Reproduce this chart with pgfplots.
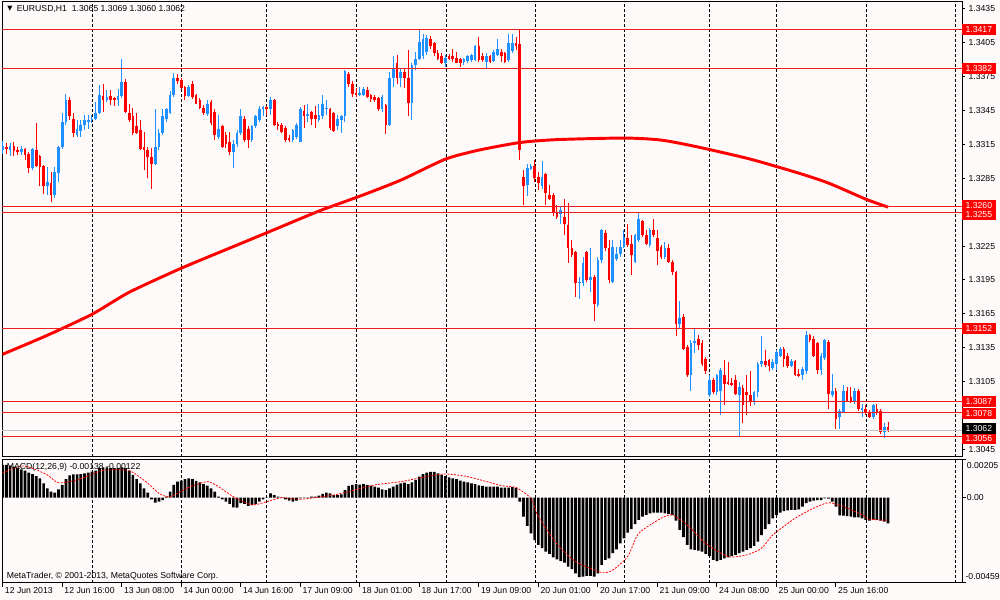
\documentclass[border=0pt]{standalone}
\usepackage{fontspec}
\setmainfont{Liberation Sans}
\newfontfamily\djv{DejaVu Sans}
\usepackage{pgfplots}
\pgfplotsset{compat=1.18}
\usepackage{pgfplotstable}
\definecolor{bg}{RGB}{255,250,250}
\definecolor{upc}{RGB}{30,144,255}
\definecolor{dnc}{RGB}{255,0,0}
\definecolor{lvl}{RGB}{238,30,30}
\definecolor{cur}{RGB}{192,192,192}
\newcommand{\sm}{\fontsize{6.5}{7.5}\selectfont}

\pgfplotstableread{
i o h l c
0 1.3310 1.3318 1.3307 1.3314
1 1.3313 1.3316 1.3307 1.3311
2 1.3310 1.3316 1.3305 1.3314
3 1.3314 1.3317 1.3305 1.3309
4 1.3310 1.3313 1.3306 1.3308
5 1.3308 1.3314 1.3306 1.3311
6 1.3311 1.3312 1.3301 1.3306
7 1.3307 1.3308 1.3290 1.3294
8 1.3294 1.3312 1.3292 1.3311
9 1.3310 1.3334 1.3295 1.3296
10 1.3305 1.3306 1.3278 1.3295
11 1.3296 1.3297 1.3271 1.3278
12 1.3278 1.3295 1.3270 1.3282
13 1.3281 1.3291 1.3264 1.3270
14 1.3270 1.3295 1.3268 1.3291
15 1.3290 1.3314 1.3282 1.3313
16 1.3313 1.3343 1.3311 1.3335
17 1.3335 1.3360 1.3332 1.3354
18 1.3354 1.3357 1.3337 1.3340
19 1.3338 1.3343 1.3322 1.3325
20 1.3323 1.3337 1.3322 1.3329
21 1.3327 1.3337 1.3322 1.3332
22 1.3332 1.3341 1.3328 1.3337
23 1.3335 1.3341 1.3329 1.3337
24 1.3337 1.3341 1.3334 1.3338
25 1.3338 1.3353 1.3337 1.3343
26 1.3343 1.3368 1.3342 1.3359
27 1.3358 1.3369 1.3344 1.3354
28 1.3354 1.3363 1.3353 1.3357
29 1.3358 1.3363 1.3350 1.3354
30 1.3356 1.3357 1.3349 1.3354
31 1.3354 1.3364 1.3349 1.3358
32 1.3358 1.3391 1.3356 1.3370
33 1.3370 1.3373 1.3343 1.3344
34 1.3343 1.3351 1.3335 1.3337
35 1.3340 1.3347 1.3323 1.3325
36 1.3331 1.3343 1.3324 1.3325
37 1.3328 1.3337 1.3310 1.3311
38 1.3313 1.3326 1.3292 1.3310
39 1.3310 1.3313 1.3285 1.3304
40 1.3304 1.3312 1.3276 1.3298
41 1.3298 1.3346 1.3297 1.3313
42 1.3313 1.3329 1.3310 1.3325
43 1.3325 1.3346 1.3323 1.3340
44 1.3338 1.3347 1.3335 1.3346
45 1.3343 1.3362 1.3342 1.3359
46 1.3359 1.3378 1.3357 1.3374
47 1.3374 1.3377 1.3369 1.3371
48 1.3372 1.3374 1.3364 1.3365
49 1.3366 1.3367 1.3354 1.3358
50 1.3358 1.3368 1.3357 1.3366
51 1.3369 1.3371 1.3355 1.3357
52 1.3359 1.3360 1.3351 1.3351
53 1.3354 1.3356 1.3346 1.3347
54 1.3347 1.3350 1.3341 1.3343
55 1.3342 1.3354 1.3340 1.3351
56 1.3353 1.3354 1.3332 1.3334
57 1.3344 1.3346 1.3319 1.3323
58 1.3322 1.3341 1.3320 1.3329
59 1.3331 1.3332 1.3312 1.3313
60 1.3323 1.3326 1.3312 1.3315
61 1.3317 1.3326 1.3306 1.3308
62 1.3308 1.3319 1.3294 1.3315
63 1.3315 1.3328 1.3313 1.3325
64 1.3325 1.3346 1.3323 1.3340
65 1.3338 1.3340 1.3317 1.3319
66 1.3329 1.3331 1.3312 1.3319
67 1.3319 1.3332 1.3317 1.3331
68 1.3331 1.3341 1.3330 1.3340
69 1.3337 1.3349 1.3335 1.3346
70 1.3346 1.3349 1.3340 1.3348
71 1.3348 1.3349 1.3341 1.3346
72 1.3346 1.3357 1.3341 1.3354
73 1.3354 1.3355 1.3331 1.3332
74 1.3333 1.3335 1.3328 1.3331
75 1.3332 1.3334 1.3325 1.3326
76 1.3330 1.3331 1.3317 1.3319
77 1.3321 1.3323 1.3317 1.3319
78 1.3319 1.3329 1.3317 1.3328
79 1.3322 1.3334 1.3320 1.3332
80 1.3317 1.3348 1.3317 1.3346
81 1.3345 1.3350 1.3330 1.3340
82 1.3340 1.3351 1.3335 1.3342
83 1.3344 1.3345 1.3332 1.3338
84 1.3341 1.3349 1.3330 1.3338
85 1.3337 1.3351 1.3335 1.3341
86 1.3340 1.3359 1.3338 1.3351
87 1.3346 1.3354 1.3341 1.3347
88 1.3346 1.3347 1.3328 1.3330
89 1.3343 1.3344 1.3326 1.3327
90 1.3331 1.3341 1.3328 1.3338
91 1.3337 1.3341 1.3325 1.3340
92 1.3340 1.3381 1.3335 1.3380
93 1.3377 1.3379 1.3366 1.3369
94 1.3369 1.3371 1.3357 1.3360
95 1.3361 1.3365 1.3357 1.3359
96 1.3359 1.3366 1.3358 1.3361
97 1.3359 1.3366 1.3358 1.3364
98 1.3363 1.3366 1.3356 1.3357
99 1.3359 1.3360 1.3353 1.3355
100 1.3357 1.3359 1.3353 1.3354
101 1.3356 1.3357 1.3345 1.3346
102 1.3346 1.3359 1.3344 1.3357
103 1.3350 1.3351 1.3324 1.3332
104 1.3332 1.3379 1.3331 1.3374
105 1.3374 1.3393 1.3366 1.3382
106 1.3387 1.3394 1.3369 1.3374
107 1.3374 1.3382 1.3366 1.3379
108 1.3379 1.3382 1.3365 1.3374
109 1.3374 1.3399 1.3340 1.3352
110 1.3352 1.3387 1.3337 1.3385
111 1.3385 1.3397 1.3381 1.3391
112 1.3391 1.3416 1.3390 1.3406
113 1.3393 1.3413 1.3391 1.3408
114 1.3397 1.3412 1.3394 1.3409
115 1.3408 1.3411 1.3400 1.3402
116 1.3405 1.3406 1.3393 1.3396
117 1.3396 1.3399 1.3390 1.3391
118 1.3393 1.3396 1.3386 1.3387
119 1.3387 1.3394 1.3384 1.3392
120 1.3393 1.3395 1.3390 1.3391
121 1.3393 1.3400 1.3388 1.3391
122 1.3392 1.3397 1.3387 1.3387
123 1.3391 1.3392 1.3384 1.3387
124 1.3388 1.3392 1.3385 1.3391
125 1.3389 1.3394 1.3387 1.3393
126 1.3390 1.3395 1.3388 1.3394
127 1.3390 1.3403 1.3389 1.3402
128 1.3402 1.3410 1.3388 1.3390
129 1.3393 1.3396 1.3388 1.3390
130 1.3388 1.3396 1.3382 1.3393
131 1.3393 1.3394 1.3387 1.3388
132 1.3389 1.3399 1.3388 1.3397
133 1.3394 1.3408 1.3393 1.3400
134 1.3397 1.3400 1.3388 1.3393
135 1.3396 1.3397 1.3387 1.3388
136 1.3390 1.3413 1.3388 1.3405
137 1.3398 1.3413 1.3396 1.3405
138 1.3405 1.3410 1.3399 1.3402
139 1.3404 1.3417 1.3301 1.3310
140 1.3286 1.3292 1.3261 1.3278
141 1.3279 1.3298 1.3269 1.3294
142 1.3293 1.3298 1.3292 1.3296
143 1.3296 1.3301 1.3282 1.3285
144 1.3286 1.3291 1.3275 1.3281
145 1.3278 1.3300 1.3276 1.3286
146 1.3289 1.3290 1.3261 1.3272
147 1.3270 1.3279 1.3266 1.3267
148 1.3270 1.3272 1.3252 1.3254
149 1.3255 1.3261 1.3249 1.3251
150 1.3253 1.3260 1.3245 1.3257
151 1.3251 1.3267 1.3235 1.3245
152 1.3244 1.3263 1.3210 1.3223
153 1.3223 1.3230 1.3215 1.3217
154 1.3220 1.3221 1.3180 1.3192
155 1.3192 1.3198 1.3178 1.3193
156 1.3192 1.3215 1.3190 1.3210
157 1.3220 1.3221 1.3193 1.3195
158 1.3195 1.3223 1.3184 1.3198
159 1.3198 1.3199 1.3159 1.3174
160 1.3173 1.3215 1.3171 1.3213
161 1.3213 1.3240 1.3210 1.3239
162 1.3237 1.3239 1.3221 1.3223
163 1.3223 1.3230 1.3192 1.3195
164 1.3193 1.3230 1.3192 1.3224
165 1.3214 1.3224 1.3212 1.3218
166 1.3218 1.3230 1.3215 1.3224
167 1.3224 1.3239 1.3223 1.3233
168 1.3232 1.3245 1.3224 1.3226
169 1.3227 1.3235 1.3199 1.3217
170 1.3211 1.3236 1.3210 1.3235
171 1.3230 1.3254 1.3229 1.3249
172 1.3247 1.3248 1.3233 1.3235
173 1.3235 1.3239 1.3226 1.3227
174 1.3226 1.3241 1.3224 1.3239
175 1.3239 1.3249 1.3233 1.3235
176 1.3232 1.3239 1.3208 1.3221
177 1.3224 1.3226 1.3214 1.3215
178 1.3215 1.3229 1.3214 1.3223
179 1.3223 1.3227 1.3210 1.3211
180 1.3211 1.3213 1.3199 1.3202
181 1.3202 1.3203 1.3145 1.3156
182 1.3156 1.3176 1.3152 1.3161
183 1.3162 1.3165 1.3133 1.3134
184 1.3136 1.3137 1.3109 1.3111
185 1.3111 1.3142 1.3097 1.3139
186 1.3139 1.3152 1.3130 1.3141
187 1.3143 1.3146 1.3133 1.3137
188 1.3139 1.3142 1.3119 1.3121
189 1.3125 1.3127 1.3112 1.3114
190 1.3093 1.3111 1.3091 1.3106
191 1.3106 1.3108 1.3094 1.3096
192 1.3096 1.3112 1.3093 1.3111
193 1.3097 1.3117 1.3075 1.3115
194 1.3111 1.3124 1.3084 1.3103
195 1.3105 1.3122 1.3102 1.3103
196 1.3104 1.3108 1.3101 1.3102
197 1.3106 1.3111 1.3093 1.3094
198 1.3093 1.3105 1.3056 1.3100
199 1.3099 1.3102 1.3068 1.3084
200 1.3096 1.3111 1.3075 1.3093
201 1.3093 1.3114 1.3083 1.3087
202 1.3087 1.3097 1.3084 1.3096
203 1.3096 1.3122 1.3091 1.3121
204 1.3121 1.3145 1.3118 1.3123
205 1.3123 1.3133 1.3118 1.3120
206 1.3124 1.3125 1.3114 1.3119
207 1.3117 1.3125 1.3115 1.3122
208 1.3121 1.3133 1.3115 1.3131
209 1.3128 1.3136 1.3127 1.3134
210 1.3134 1.3136 1.3118 1.3125
211 1.3128 1.3130 1.3117 1.3119
212 1.3119 1.3125 1.3118 1.3123
213 1.3123 1.3124 1.3110 1.3111
214 1.3112 1.3116 1.3109 1.3110
215 1.3111 1.3118 1.3106 1.3116
216 1.3114 1.3150 1.3112 1.3146
217 1.3146 1.3147 1.3140 1.3142
218 1.3143 1.3145 1.3127 1.3128
219 1.3139 1.3140 1.3112 1.3115
220 1.3115 1.3130 1.3111 1.3128
221 1.3126 1.3143 1.3124 1.3142
222 1.3140 1.3142 1.3081 1.3094
223 1.3093 1.3112 1.3091 1.3097
224 1.3097 1.3099 1.3063 1.3072
225 1.3074 1.3081 1.3063 1.3079
226 1.3078 1.3102 1.3077 1.3097
227 1.3097 1.3100 1.3087 1.3088
228 1.3091 1.3100 1.3086 1.3087
229 1.3087 1.3099 1.3085 1.3097
230 1.3097 1.3098 1.3079 1.3081
231 1.3080 1.3085 1.3074 1.3082
232 1.3081 1.3084 1.3075 1.3078
233 1.3078 1.3080 1.3073 1.3074
234 1.3074 1.3085 1.3072 1.3084
235 1.3081 1.3085 1.3075 1.3077
236 1.3079 1.3081 1.3059 1.3060
237 1.3060 1.3068 1.3055 1.3065
238 1.3065 1.3069 1.3060 1.3062
}\candles

\pgfplotstableread{
i ma
0 1.31292
12 1.31460
24 1.31646
34 1.31841
48 1.32054
61 1.32232
72 1.32382
85 1.32560
96 1.32692
107 1.32834
119 1.33020
128 1.33100
139 1.33167
149 1.33193
167 1.33207
177 1.33189
187 1.33127
201 1.33020
214 1.32896
222 1.32808
232 1.32666
238 1.32595
}\matab

\pgfplotstableread{
i m
0 0.00176
1 0.00176
2 0.00172
3 0.00167
4 0.00158
5 0.00152
6 0.00145
7 0.00134
8 0.00127
9 0.00116
10 0.00104
11 0.00077
12 0.00050
13 0.00032
14 0.00027
15 0.00045
16 0.00068
17 0.00099
18 0.00120
19 0.00125
20 0.00125
21 0.00127
22 0.00131
23 0.00134
24 0.00140
25 0.00145
26 0.00158
27 0.00163
28 0.00163
29 0.00158
30 0.00158
31 0.00158
32 0.00163
33 0.00158
34 0.00145
35 0.00122
36 0.00099
37 0.00077
38 0.00050
39 0.00027
40 -0.00009
41 -0.00027
42 -0.00022
43 -0.00013
44 0.00005
45 0.00032
46 0.00068
47 0.00086
48 0.00091
49 0.00099
50 0.00104
51 0.00099
52 0.00090
53 0.00082
54 0.00072
55 0.00065
56 0.00050
57 0.00032
58 0.00005
59 -0.00009
60 -0.00022
61 -0.00034
62 -0.00052
63 -0.00054
64 -0.00030
65 -0.00034
66 -0.00045
67 -0.00039
68 -0.00034
69 -0.00022
70 -0.00009
71 0.00001
72 0.00023
73 0.00014
74 0.00005
75 0.00002
76 -0.00009
77 -0.00016
78 -0.00022
79 -0.00016
80 -0.00004
81 0.00001
82 0.00002
83 0.00005
84 0.00005
85 0.00011
86 0.00020
87 0.00027
88 0.00023
89 0.00014
90 0.00013
91 0.00018
92 0.00041
93 0.00063
94 0.00068
95 0.00072
96 0.00070
97 0.00072
98 0.00068
99 0.00065
100 0.00059
101 0.00054
102 0.00045
103 0.00041
104 0.00050
105 0.00059
106 0.00070
107 0.00077
108 0.00081
109 0.00072
110 0.00082
111 0.00095
112 0.00113
113 0.00127
114 0.00134
115 0.00138
116 0.00138
117 0.00131
118 0.00122
119 0.00116
120 0.00109
121 0.00104
122 0.00099
123 0.00091
124 0.00086
125 0.00082
126 0.00077
127 0.00072
128 0.00066
129 0.00063
130 0.00059
131 0.00059
132 0.00059
133 0.00059
134 0.00054
135 0.00054
136 0.00054
137 0.00056
138 0.00052
139 -0.00022
140 -0.00102
141 -0.00152
142 -0.00192
143 -0.00228
144 -0.00254
145 -0.00272
146 -0.00290
147 -0.00303
148 -0.00321
149 -0.00332
150 -0.00341
151 -0.00349
152 -0.00371
153 -0.00385
154 -0.00407
155 -0.00428
156 -0.00425
157 -0.00421
158 -0.00421
159 -0.00425
160 -0.00407
161 -0.00362
162 -0.00335
163 -0.00326
164 -0.00299
165 -0.00278
166 -0.00246
167 -0.00219
168 -0.00188
169 -0.00170
170 -0.00142
171 -0.00120
172 -0.00102
173 -0.00093
174 -0.00084
175 -0.00081
176 -0.00081
177 -0.00081
178 -0.00084
179 -0.00088
180 -0.00093
181 -0.00124
182 -0.00174
183 -0.00213
184 -0.00254
185 -0.00278
186 -0.00281
187 -0.00285
188 -0.00290
189 -0.00303
190 -0.00314
191 -0.00335
192 -0.00341
193 -0.00335
194 -0.00326
195 -0.00321
196 -0.00314
197 -0.00308
198 -0.00299
199 -0.00290
200 -0.00281
201 -0.00272
202 -0.00260
203 -0.00237
204 -0.00201
205 -0.00170
206 -0.00142
207 -0.00111
208 -0.00093
209 -0.00081
210 -0.00073
211 -0.00068
212 -0.00066
213 -0.00066
214 -0.00063
215 -0.00048
216 -0.00030
217 -0.00022
218 -0.00016
219 -0.00013
220 -0.00013
221 -0.00004
222 -0.00005
223 -0.00022
224 -0.00048
225 -0.00095
226 -0.00097
227 -0.00099
228 -0.00102
229 -0.00106
230 -0.00106
231 -0.00111
232 -0.00120
233 -0.00124
234 -0.00120
235 -0.00120
236 -0.00124
237 -0.00129
238 -0.00138
}\macdtab

\pgfplotstableread{
i s
0 0.00134
5 0.00170
8 0.00158
12 0.00122
15 0.00080
20 0.00095
24 0.00125
27 0.00147
34 0.00145
39 0.00077
42 0.00023
45 0.00005
50 0.00055
55 0.00086
58 0.00059
62 0.00005
67 -0.00039
71 -0.00022
75 0.00000
80 -0.00009
89 0.00014
94 0.00038
100 0.00068
107 0.00086
114 0.00113
119 0.00127
125 0.00113
134 0.00065
138 0.00054
142 -0.00004
144 -0.00102
149 -0.00250
154 -0.00344
161 -0.00403
164 -0.00389
168 -0.00317
171 -0.00192
177 -0.00111
180 -0.00093
184 -0.00147
189 -0.00246
195 -0.00317
200 -0.00308
204 -0.00272
207 -0.00201
213 -0.00111
218 -0.00057
222 -0.00027
226 -0.00048
231 -0.00093
233 -0.00116
238 -0.00122
}\sigtab

\pgfplotsset{
  candle/.style={draw=none, mark=none, forget plot,
    error bars/y dir=plus, error bars/y explicit, error bars/error mark=none},
}
\tikzset{
  lab/.style={fill=dnc, text=white, font=\sm, anchor=west, inner xsep=2.5pt,
    inner ysep=0pt, minimum height=8.25pt, text width=20.5pt, align=left},
}

\begin{document}
\begin{tikzpicture}[x=1pt,y=1pt]
\useasboundingbox (0,0) rectangle (750,450);
\fill[bg] (0,0) rectangle (750,450);

% ---------------- main price panel
\begin{axis}[
  at={(1.5pt,107.25pt)}, anchor=south west, scale only axis,
  width=720pt, height=341.25pt,
  xmin=-0.188, xmax=257.88, ymin=1.303819, ymax=1.34412,
  scaled y ticks=false, scaled x ticks=false,
  clip mode=individual,
  axis background/.style={fill=bg},
  axis line style={black, line width=0.75pt},
  xtick={24.1,48.1,71,95.2,119.2,143.1,167,189.9,208.1,232.1,256},
  xticklabels={},
  xtick style={draw=none},
  xmajorgrids=true,
  major grid style={black, line width=0.55pt, dash pattern=on 2.25pt off 1.5pt},
  ytick={1.3045,1.3075,1.3105,1.3135,1.3165,1.3195,1.3225,1.3255,1.3285,1.3315,1.3345,1.3375,1.3405,1.3435},
  yticklabels={1.3045,1.3075,1.3105,1.3135,1.3165,1.3195,1.3225,1.3255,1.3285,1.3315,1.3345,1.3375,1.3405,1.3435},
  ytick pos=right, yticklabel pos=right,
  tick align=outside, major tick length=2.25pt,
  ytick style={black, line width=0.75pt},
  yticklabel style={font=\sm, anchor=west, inner sep=0pt, xshift=2.5pt},
]
% wicks
\addplot[candle, restrict expr to domain={\thisrow{c}-\thisrow{o}}{0:1},
  error bars/error bar style={draw=upc, line width=0.75pt, solid}]
  table[x=i, y=l, y error plus expr=\thisrow{h}-\thisrow{l}] {\candles};
\addplot[candle, restrict expr to domain={\thisrow{c}-\thisrow{o}}{-1:-0.00001},
  error bars/error bar style={draw=dnc, line width=0.75pt, solid}]
  table[x=i, y=l, y error plus expr=\thisrow{h}-\thisrow{l}] {\candles};
% bodies
\addplot[candle, restrict expr to domain={\thisrow{c}-\thisrow{o}}{0:1},
  error bars/error bar style={draw=upc, line width=2pt, solid}]
  table[x=i, y=o, y error plus expr=\thisrow{c}-\thisrow{o}] {\candles};
\addplot[candle, restrict expr to domain={\thisrow{c}-\thisrow{o}}{-1:-0.00001},
  error bars/error bar style={draw=dnc, line width=2pt, solid}]
  table[x=i, y=c, y error plus expr=\thisrow{o}-\thisrow{c}] {\candles};
% moving average
\addplot[dnc, line width=2.2pt, smooth, tension=0.4, mark=none] table[x=i, y=ma] {\matab};
% horizontal levels
\addplot[cur, line width=0.75pt, mark=none] coordinates {(-0.188,1.3062) (257.88,1.3062)};
\addplot[lvl, line width=0.8pt, mark=none] coordinates {(-0.188,1.3417) (257.88,1.3417)};
\addplot[lvl, line width=0.8pt, mark=none] coordinates {(-0.188,1.3382) (257.88,1.3382)};
\addplot[lvl, line width=0.8pt, mark=none] coordinates {(-0.188,1.3260) (257.88,1.3260)};
\addplot[lvl, line width=0.8pt, mark=none] coordinates {(-0.188,1.3255) (257.88,1.3255)};
\addplot[lvl, line width=0.8pt, mark=none] coordinates {(-0.188,1.3152) (257.88,1.3152)};
\addplot[lvl, line width=0.8pt, mark=none] coordinates {(-0.188,1.3087) (257.88,1.3087)};
\addplot[lvl, line width=0.8pt, mark=none] coordinates {(-0.188,1.3078) (257.88,1.3078)};
\addplot[lvl, line width=0.8pt, mark=none] coordinates {(-0.188,1.3056) (257.88,1.3056)};
% price labels
\node[lab] at (axis cs:257.88,1.3417) {1.3417};
\node[lab] at (axis cs:257.88,1.3382) {1.3382};
\node[lab] at (axis cs:257.88,1.3253) {1.3255};
\node[lab] at (axis cs:257.88,1.3261) {1.3260};
\node[lab] at (axis cs:257.88,1.3152) {1.3152};
\node[lab] at (axis cs:257.88,1.3077) {1.3078};
\node[lab] at (axis cs:257.88,1.3087) {1.3087};
\node[lab] at (axis cs:257.88,1.3055) {1.3056};
\node[lab, fill=black] at (axis cs:257.88,1.3063) {1.3062};
\end{axis}

% ---------------- MACD panel
\begin{axis}[
  at={(1.5pt,12.75pt)}, anchor=south west, scale only axis,
  width=720pt, height=92.625pt,
  xmin=-0.188, xmax=257.88, ymin=-0.00459, ymax=0.00205,
  scaled y ticks=false, scaled x ticks=false,
  axis background/.style={fill=bg},
  axis line style={black, line width=0.75pt},
  xtick={0,16,32,48,64,80,96,112,128,144,160,176,192,208,224},
  xticklabels={12 Jun 2013,12 Jun 16:00,13 Jun 08:00,14 Jun 00:00,14 Jun 16:00,17 Jun 09:00,18 Jun 01:00,18 Jun 17:00,19 Jun 09:00,20 Jun 01:00,20 Jun 17:00,21 Jun 09:00,24 Jun 08:00,25 Jun 00:00,25 Jun 16:00},
  xtick pos=bottom, tick align=outside, major tick length=3pt,
  xtick style={black, line width=0.75pt},
  xticklabel style={font=\sm, anchor=north west, inner sep=0pt, xshift=1.5pt, yshift=-0.5pt},
  extra x ticks={24.1,48.1,71,95.2,119.2,143.1,167,189.9,208.1,232.1,256},
  extra x tick labels={},
  extra x tick style={grid=major, major tick length=0pt},
  major grid style={black, line width=0.55pt, dash pattern=on 2.25pt off 1.5pt},
  ytick={-0.00459,0,0.00205}, yticklabels={},
  ytick pos=right, ytick style={black, line width=0.75pt},
]
\addplot[ybar, bar width=2pt, fill=black, draw=none] table[x=i, y=m] {\macdtab};
\addplot[dnc, line width=0.6pt, dash pattern=on 1.5pt off 1pt, smooth, tension=0.4, mark=none] table[x=i, y=s] {\sigtab};
\end{axis}

% ---------------- texts
\node[anchor=west, inner sep=0pt, font=\djv\fontsize{5}{6}\selectfont] at (5.25,443.3) {▼};
\node[anchor=west, inner sep=0pt, font=\sm] at (12.5,443.3) {EURUSD,H1\ \ 1.3065 1.3069 1.3060 1.3062};
\node[anchor=west, inner sep=0pt, font=\sm] at (5.0,99.8) {MACD(12,26,9) -0.00138 -0.00122};
\node[anchor=west, inner sep=0pt, font=\sm] at (5.0,17.5) {MetaTrader, © 2001-2013, MetaQuotes Software Corp.};
\node[anchor=west, inner sep=0pt, font=\sm] at (725,101.2) {0.00205};
\node[anchor=west, inner sep=0pt, font=\sm] at (725,76.7) {0.00};
\node[anchor=west, inner sep=0pt, font=\sm] at (724,17.3) {-0.00459};
\end{tikzpicture}
\end{document}
